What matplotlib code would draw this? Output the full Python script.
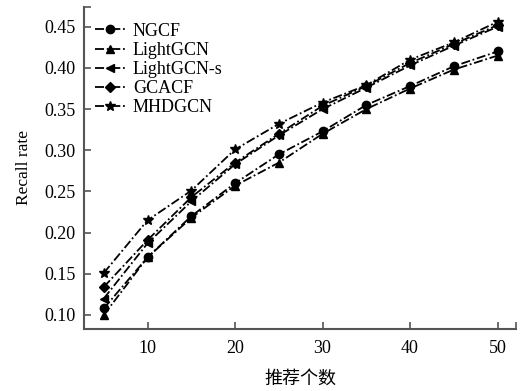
import matplotlib.pyplot as plt

# recommendation count (x) and recall rate of each model
k = [5, 10, 15, 20, 25, 30, 35, 40, 45, 50]
ngcf = [0.108, 0.170, 0.220, 0.260, 0.295, 0.323, 0.355, 0.378, 0.402, 0.420]
lightgcn = [0.100, 0.170, 0.218, 0.257, 0.285, 0.320, 0.350, 0.375, 0.398, 0.415]
lightgcn_s = [0.120, 0.187, 0.238, 0.283, 0.318, 0.350, 0.376, 0.403, 0.427, 0.450]
gcacf = [0.134, 0.191, 0.243, 0.285, 0.320, 0.354, 0.378, 0.406, 0.429, 0.452]
mhdgcn = [0.151, 0.215, 0.251, 0.301, 0.332, 0.358, 0.379, 0.410, 0.431, 0.456]

names = ['NGCF', 'LightGCN', 'LightGCN-s', 'GCACF', 'MHDGCN']
series = [ngcf, lightgcn, lightgcn_s, gcacf, mhdgcn]
markers = ['o', '^', '<', 'D', '*']
sizes = [6, 6, 6, 5, 7]

yticks = [0.10, 0.15, 0.20, 0.25, 0.30, 0.35, 0.40, 0.45]
xticks = [10, 20, 30, 40, 50]

plt.rcParams['font.family'] = ['Liberation Serif', 'Noto Sans CJK SC']
fig = plt.figure(figsize=(5.27, 3.91), dpi=100)
ax = fig.add_axes([0.1594, 0.1586, 0.8196, 0.8235])

for vals, name, m, s in zip(series, names, markers, sizes):
    ax.plot(k, vals, color='black', linestyle=(0, (5, 1.5, 1, 1.5)), linewidth=1.3,
            marker=m, markersize=s, label=name)

ax.set_xlim(2.74, 52.1)
ax.set_ylim(0.083, 0.474)
ax.set_xticks(xticks)
ax.set_yticks(yticks)
ax.set_yticklabels(['%.2f' % v for v in yticks])
# little end caps at the ends of the axis lines
ax.set_xticks([52.1], minor=True)
ax.set_yticks([0.474], minor=True)
ax.tick_params(which='both', direction='in', color='#555555', labelsize=13, length=5, width=1.2)
ax.tick_params(axis='y', pad=6)
ax.tick_params(axis='x', pad=8)

for side in ['top', 'right']:
    ax.spines[side].set_visible(False)
for side in ['left', 'bottom']:
    ax.spines[side].set_color('#555555')
    ax.spines[side].set_linewidth(1.5)

ax.set_ylabel('Recall rate', fontsize=12.5, labelpad=9)
ax.set_xlabel('推荐个数', fontsize=13, family=['Noto Sans CJK SC'], labelpad=9)

ax.legend(loc='upper left', frameon=False, fontsize=13, handlelength=1.7,
          handletextpad=0.4, labelspacing=0.12, borderaxespad=0.2,
          bbox_to_anchor=(0.0, 0.985))

fig.savefig('out.png', dpi=100)
